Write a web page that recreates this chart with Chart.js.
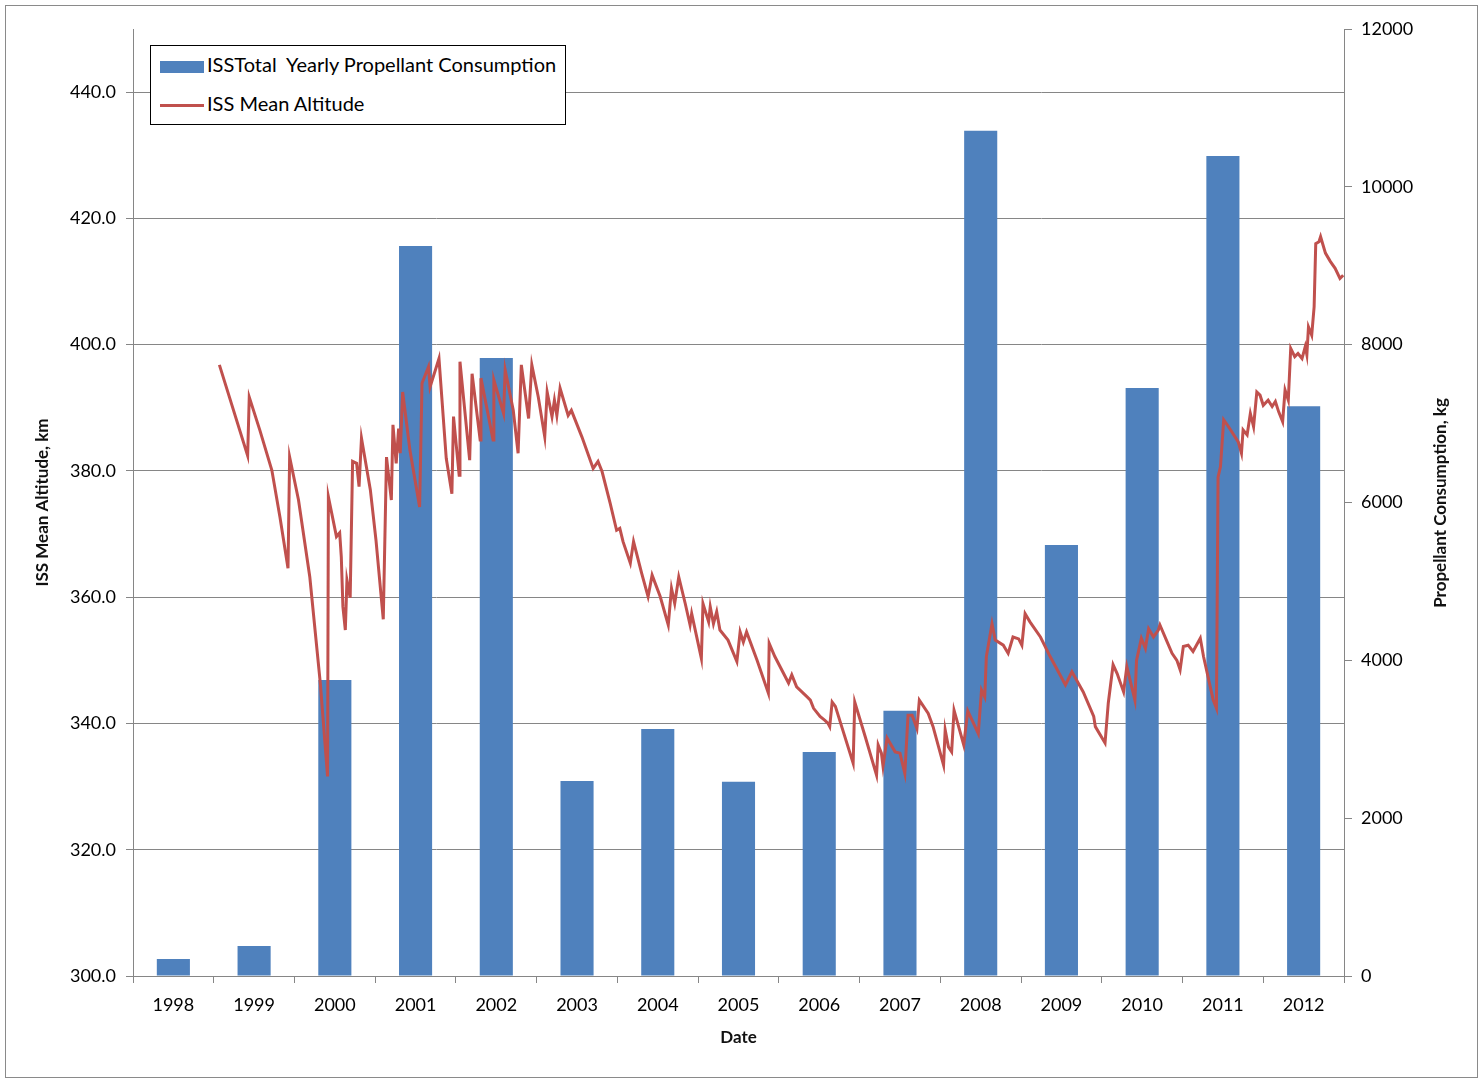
<!DOCTYPE html>
<html>
<head>
<meta charset="utf-8">
<script src="https://cdn.jsdelivr.net/npm/chart.js@4.4.1/dist/chart.umd.min.js"></script>
<style>
  body { margin: 0; background: #fff; }
  #wrap { position: relative; width: 1480px; height: 1078px; }
  #frame { position: absolute; left: 5px; top: 5px; width: 1471px; height: 1071px; border: 1px solid #8a8a8a; }
  canvas { position: absolute; left: 0; top: 0; }
  #legend {
    position: absolute; left: 150px; top: 45px; width: 414px; height: 78px;
    border: 1px solid #000; background: #fff;
    font-family: Lato, "Open Sans", sans-serif; font-size: 20px; color: #000;
  }
  .item { position: absolute; left: 9px; white-space: pre; line-height: 22px; }
  .sw { display: inline-block; width: 44px; vertical-align: middle; margin-right: 3px; }
</style>
</head>
<body>
<div id="wrap">
  <div id="frame"></div>
  <canvas id="issChart" width="1480" height="1078"></canvas>
  <div id="legend">
    <div class="item" style="top:7px"><span class="sw" style="height:12px;background:#4F81BD"></span>ISSTotal  Yearly Propellant Consumption</div>
    <div class="item" style="top:46px"><span class="sw" style="height:3px;background:#C0504D"></span>ISS Mean Altitude</div>
  </div>
</div>
<script>
// Yearly propellant use (kg), one bar per year
const years = ['1998', '1999', '2000', '2001', '2002', '2003', '2004', '2005', '2006', '2007', '2008', '2009', '2010', '2011', '2012'];
const propellant = [215, 380, 3750, 9250, 7830, 2470, 3130, 2460, 2840, 3360, 10710, 5460, 7450, 10390, 7220];

// Mean altitude (km) against decimal year
const lineDates = [
  1999.07, 1999.42, 1999.44, 1999.57, 1999.72, 1999.82, 1999.92, 1999.94, 2000.05, 2000.19,
  2000.32, 2000.41, 2000.42, 2000.52, 2000.56, 2000.58, 2000.60, 2000.63, 2000.65, 2000.69,
  2000.72, 2000.77, 2000.80, 2000.83, 2000.94, 2001.01, 2001.10, 2001.14, 2001.20, 2001.22,
  2001.26, 2001.29, 2001.31, 2001.34, 2001.43, 2001.55, 2001.58, 2001.66, 2001.68, 2001.79,
  2001.88, 2001.95, 2001.97, 2002.04, 2002.05, 2002.17, 2002.20, 2002.30, 2002.31, 2002.46,
  2002.47, 2002.59, 2002.61, 2002.71, 2002.77, 2002.81, 2002.90, 2002.94, 2003.02, 2003.10,
  2003.13, 2003.19, 2003.22, 2003.25, 2003.29, 2003.39, 2003.43, 2003.56, 2003.70, 2003.76,
  2003.81, 2003.91, 2003.99, 2004.03, 2004.07, 2004.16, 2004.20, 2004.30, 2004.38, 2004.43,
  2004.53, 2004.63, 2004.67, 2004.71, 2004.76, 2004.84, 2004.90, 2004.92, 2005.04, 2005.06,
  2005.13, 2005.15, 2005.19, 2005.23, 2005.27, 2005.37, 2005.48, 2005.52, 2005.56, 2005.60,
  2005.73, 2005.87, 2005.88, 2005.95, 2006.12, 2006.16, 2006.22, 2006.35, 2006.39, 2006.43,
  2006.51, 2006.57, 2006.61, 2006.63, 2006.66, 2006.70, 2006.92, 2006.94, 2007.07, 2007.21,
  2007.23, 2007.27, 2007.29, 2007.34, 2007.44, 2007.50, 2007.56, 2007.60, 2007.65, 2007.71,
  2007.74, 2007.85, 2007.91, 2008.04, 2008.06, 2008.10, 2008.14, 2008.17, 2008.29, 2008.34,
  2008.47, 2008.51, 2008.55, 2008.57, 2008.64, 2008.68, 2008.78, 2008.84, 2008.90, 2008.97,
  2009.01, 2009.05, 2009.11, 2009.24, 2009.36, 2009.55, 2009.63, 2009.77, 2009.90, 2009.92,
  2010.04, 2010.08, 2010.14, 2010.19, 2010.27, 2010.31, 2010.41, 2010.43, 2010.49, 2010.54,
  2010.58, 2010.64, 2010.70, 2010.72, 2010.80, 2010.87, 2010.93, 2010.97, 2011.01, 2011.07,
  2011.13, 2011.22, 2011.26, 2011.38, 2011.42, 2011.44, 2011.47, 2011.51, 2011.57, 2011.69,
  2011.73, 2011.75, 2011.80, 2011.84, 2011.88, 2011.92, 2011.96, 2012.00, 2012.06, 2012.11,
  2012.15, 2012.19, 2012.24, 2012.27, 2012.31, 2012.34, 2012.39, 2012.43, 2012.48, 2012.52,
  2012.54, 2012.56, 2012.60, 2012.63, 2012.65, 2012.69, 2012.71, 2012.77, 2012.83, 2012.89,
  2012.95, 2012.99
];
const lineAltitude = [
  396.8, 382.4, 391.7, 386.5, 380.1, 372.7, 364.6, 382.2, 375.4, 363.2,
  346.4, 331.6, 375.9, 369.6, 370.2, 366.4, 358.5, 354.8, 362.7, 359.9,
  381.5, 381.2, 377.5, 385.2, 377.0, 369.0, 356.5, 382.2, 375.4, 387.3,
  381.2, 386.7, 382.8, 392.5, 383.3, 374.3, 393.9, 396.5, 393.3, 397.8,
  382.0, 376.4, 388.6, 379.3, 397.3, 381.7, 395.4, 384.9, 394.7, 384.9,
  394.4, 389.1, 396.0, 389.6, 382.8, 396.8, 388.3, 396.8, 391.7, 385.4,
  392.5, 388.6, 391.2, 388.8, 393.1, 388.8, 389.6, 385.4, 380.4, 381.5,
  379.9, 374.9, 370.6, 370.9, 368.8, 365.4, 368.8, 363.8, 360.1, 363.5,
  360.1, 355.6, 361.4, 359.0, 363.2, 359.0, 355.6, 357.4, 350.3, 359.0,
  356.1, 358.5, 355.8, 357.7, 354.8, 353.2, 349.8, 354.5, 352.9, 354.5,
  350.0, 344.8, 352.7, 350.6, 346.4, 347.7, 345.8, 344.2, 343.7, 342.4,
  341.1, 340.5, 340.0, 339.5, 343.4, 342.7, 333.7, 343.4, 337.9, 331.8,
  336.6, 335.3, 333.2, 337.7, 335.5, 335.3, 332.1, 341.3, 341.3, 339.2,
  343.7, 341.6, 339.5, 333.4, 339.0, 336.3, 335.5, 342.1, 336.6, 342.0,
  338.4, 345.3, 344.2, 350.6, 355.8, 353.2, 352.4, 351.1, 353.7, 353.4,
  352.4, 357.4, 356.1, 353.7, 350.6, 346.1, 348.2, 345.0, 341.1, 339.5,
  336.9, 343.2, 349.3, 347.9, 345.0, 349.0, 343.7, 350.0, 353.5, 351.9,
  355.0, 353.7, 354.8, 355.6, 353.2, 351.1, 350.0, 348.5, 352.2, 352.4,
  351.4, 353.5, 350.6, 343.7, 342.4, 379.0, 380.7, 388.1, 387.0, 384.6,
  382.8, 386.5, 385.7, 389.1, 387.0, 392.5, 392.0, 390.4, 391.2, 390.2,
  391.0, 389.4, 387.8, 392.8, 391.2, 399.4, 398.1, 398.6, 397.8, 399.7,
  398.4, 402.8, 401.5, 406.0, 416.0, 416.3, 417.1, 414.5, 413.2, 412.1,
  410.5, 411.0
];

const altTicks = [300, 320, 340, 360, 380, 400, 420, 440];
const kgTicks = [0, 2000, 4000, 6000, 8000, 10000, 12000];

const fontFamily = 'Lato, "Open Sans", sans-serif';
const font = { family: fontFamily, size: 18 };
const boldFont = { family: fontFamily, size: 17, weight: 'bold' };
const axisGrey = '#868686';

// right-hand title reads bottom to top, like the left one
const rightTitle = {
  id: 'rightTitle',
  afterDraw(chart) {
    const c = chart.ctx;
    c.save();
    c.translate(1441, 503);
    c.rotate(-Math.PI / 2);
    c.font = 'bold 17px ' + fontFamily;
    c.fillStyle = '#111';
    c.textAlign = 'center';
    c.textBaseline = 'middle';
    c.fillText('Propellant Consumption, kg', 0, 0);
    c.restore();
  }
};

const ctx = document.getElementById('issChart').getContext('2d');
new Chart(ctx, {
  type: 'bar',
  data: {
    labels: years,
    datasets: [{
      type: 'line',
      label: 'ISS Mean Altitude',
      data: lineDates.map((d, i) => ({ x: d, y: lineAltitude[i] })),
      xAxisID: 'xLine',
      yAxisID: 'yAlt',
      borderColor: '#C0504D',
      borderWidth: 3,
      pointRadius: 0,
      tension: 0,
      order: 0
    }, {
      type: 'bar',
      label: 'ISSTotal  Yearly Propellant Consumption',
      data: propellant,
      xAxisID: 'x',
      yAxisID: 'yKg',
      backgroundColor: '#4F81BD',
      grouped: false,
      categoryPercentage: 1,
      barPercentage: 0.41,
      order: 1
    }]
  },
  options: {
    responsive: false,
    animation: false,
    layout: { padding: { left: 28, right: 22, top: 29, bottom: 26 } },
    plugins: {
      legend: { display: false },
      tooltip: { enabled: false }
    },
    scales: {
      x: {
        type: 'category',
        offset: true,
        grid: { offset: true, drawOnChartArea: false, drawTicks: true, tickLength: 7, color: axisGrey },
        border: { color: axisGrey },
        ticks: { font: font, color: '#000', padding: 11, maxRotation: 0 },
        title: { display: true, text: 'Date', font: boldFont, color: '#111', padding: { top: 4, bottom: 4 } },
        afterFit: (axis) => { axis.height = 76; }
      },
      xLine: {
        type: 'linear',
        min: 1998,
        max: 2013,
        offset: false,
        display: false
      },
      yAlt: {
        type: 'linear',
        position: 'left',
        min: 300,
        max: 450,
        afterBuildTicks: (axis) => { axis.ticks = altTicks.map(v => ({ value: v })); },
        grid: { color: axisGrey, tickLength: 7 },
        border: { color: axisGrey },
        ticks: { font: font, color: '#000', padding: 10, callback: (v) => Number(v).toFixed(1) },
        title: { display: true, text: 'ISS Mean Altitude, km', font: boldFont, color: '#111', padding: { top: 4, bottom: 4 } },
        afterFit: (axis) => { axis.width = 105; }
      },
      yKg: {
        type: 'linear',
        position: 'right',
        min: 0,
        max: 12000,
        afterBuildTicks: (axis) => { axis.ticks = kgTicks.map(v => ({ value: v })); },
        grid: { drawOnChartArea: false, color: axisGrey, tickLength: 8 },
        border: { color: axisGrey },
        ticks: { font: font, color: '#000', padding: 9, callback: (v) => String(v) },
        afterFit: (axis) => { axis.width = 114; }
      }
    }
  },
  plugins: [rightTitle]
});
</script>
</body>
</html>
